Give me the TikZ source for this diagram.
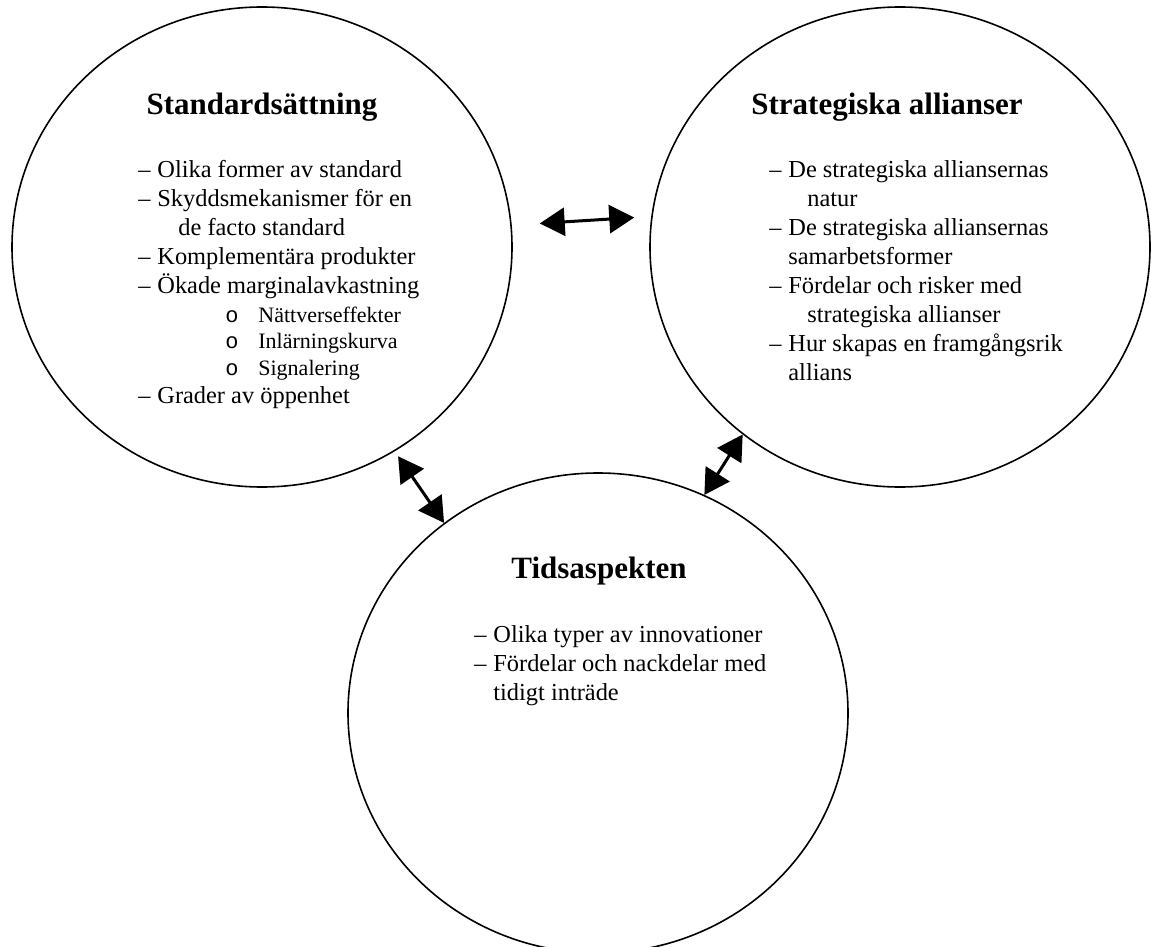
\documentclass[tikz,border=0pt]{standalone}
\usepackage{fontspec}
\setmainfont{Liberation Serif}
\newfontfamily\bulletfont{Liberation Mono}
\usepackage{tikz}
\usetikzlibrary{shapes.geometric,arrows.meta,positioning}

\newcommand{\itemdash}{\llap{--\hspace{3.4pt}}}
\newcommand{\subpt}[1]{\hspace*{34pt}\makebox[16.5pt][l]{\fontsize{11}{13}\bulletfont o}{\fontsize{11}{13}\selectfont #1}}

\begin{document}
\begin{tikzpicture}[
    x=0.5pt, y=-0.5pt,
    topic/.style={ellipse, draw, line width=0.8pt, minimum width=250pt, minimum height=240pt, inner sep=0pt},
    topictitle/.style={font=\fontsize{15.5}{18}\selectfont\bfseries, anchor=base, inner sep=0pt},
    itemlist/.style={font=\fontsize{12.2}{14.5}\selectfont, align=left, anchor=north west, inner sep=0pt},
    link/.style={{Triangle[length=12.5pt,width=14pt]}-{Triangle[length=12.5pt,width=14pt]}, line width=1.5pt},
  ]
    \useasboundingbox (0,0) rectangle (1151,947);

    % Circles
    \node[topic] (std) at (262,247) {};
    \node[topic] (all) at (900,247) {};
    \node[topic] (tid) at (598,713) {};

    % Standardsaettning
    \node[topictitle] (stdtitle) at (262,115) {Standardsättning};
    \node[itemlist] (stdlist) at (157,160) {\itemdash Olika former av standard\\
      \itemdash Skyddsmekanismer för en\\
      \hspace*{10.5pt}de facto standard\\
      \itemdash Komplementära produkter\\
      \itemdash Ökade marginalavkastning\\
      \subpt{Nättverseffekter}\\[-1.5pt]
      \subpt{Inlärningskurva}\\[-1pt]
      \subpt{Signalering}\\[-0.5pt]
      \itemdash Grader av öppenhet};

    % Strategiska allianser
    \node[topictitle] (alltitle) at (887,115) {Strategiska allianser};
    \node[itemlist] (alllist) at (788,160) {\itemdash De strategiska alliansernas\\
      \hspace*{9.5pt}natur\\
      \itemdash De strategiska alliansernas\\
      samarbetsformer\\
      \itemdash Fördelar och risker med\\
      \hspace*{9.5pt}strategiska allianser\\
      \itemdash Hur skapas en framgångsrik\\
      allians};

    % Tidsaspekten
    \node[topictitle] (tidtitle) at (599,578) {Tidsaspekten};
    \node[itemlist] (tidlist) at (493,625) {\itemdash Olika typer av innovationer\\
      \itemdash Fördelar och nackdelar med\\
      tidigt inträde};

    % Arrows
    \draw[link, shorten <=14pt, shorten >=8.5pt] (std.5) -- (all.173);
    \draw[link, shorten <=3pt] (std.-57.5) -- (tid.129.8);
    \draw[link] (tid.64.7) -- (all.-130.7);

  \end{tikzpicture}
\end{document}
